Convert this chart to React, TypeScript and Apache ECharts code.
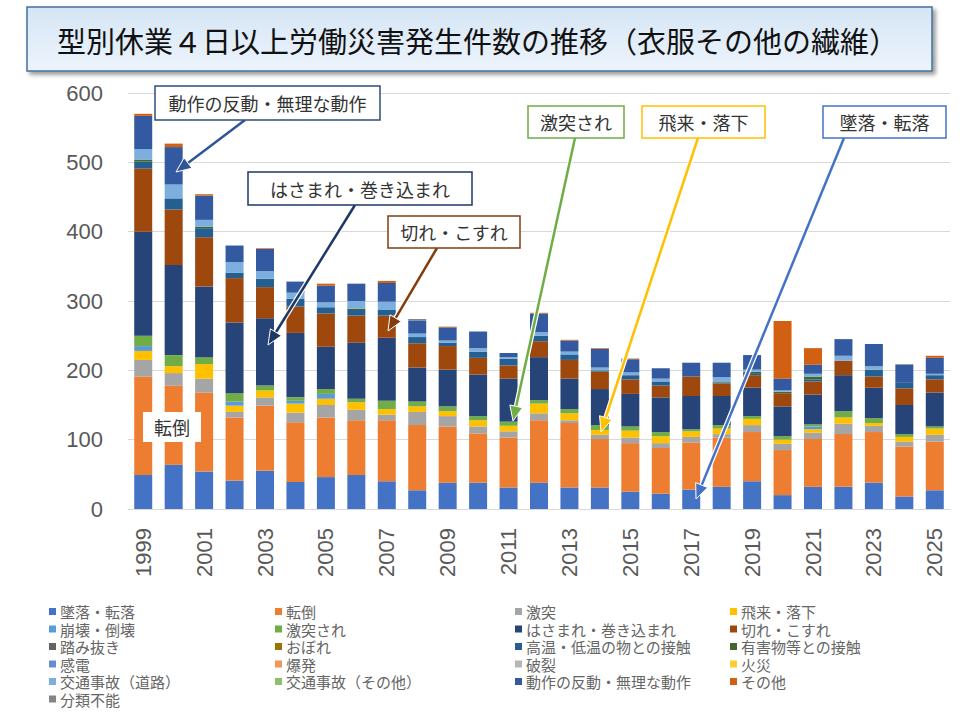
import * as echarts from "echarts";
import { useEffect, useRef } from "react";

// 年（横軸）
const years = [
  "1999", "2000", "2001", "2002", "2003", "2004", "2005", "2006", "2007",
  "2008", "2009", "2010", "2011", "2012", "2013", "2014", "2015", "2016",
  "2017", "2018", "2019", "2020", "2021", "2022", "2023", "2024", "2025",
];

const seriesNames = [
  "墜落・転落", "転倒", "激突", "飛来・落下",
  "崩壊・倒壊", "激突され", "はさまれ・巻き込まれ", "切れ・こすれ",
  "踏み抜き", "おぼれ", "高温・低温の物との接触", "有害物等との接触",
  "感電", "爆発", "破裂", "火災",
  "交通事故（道路）", "交通事故（その他）", "動作の反動・無理な動作", "その他",
  "分類不能",
];

const seriesColors = [
  "#4472C4", "#ED7D31", "#A5A5A5", "#FFC000",
  "#5B9BD5", "#70AD47", "#264478", "#9E480E",
  "#636363", "#997300", "#255E91", "#43682B",
  "#698ED0", "#F1975A", "#B7B7B7", "#FFCD33",
  "#7CAFDD", "#8CC168", "#335AA1", "#D26012",
  "#848484",
];

// 件数（1999〜2025）
const fall = [49, 64, 54, 41, 55, 39, 46, 49, 40, 27, 38, 38, 31, 38, 31, 31, 25, 22, 28, 32, 40, 20, 32, 32, 38, 18, 27];
const slip = [142, 114, 114, 91, 94, 86, 86, 79, 88, 94, 81, 71, 72, 90, 93, 70, 70, 66, 68, 71, 71, 65, 69, 76, 73, 72, 70];
const bump = [24, 18, 20, 8, 12, 14, 18, 15, 8, 19, 15, 10, 9, 10, 4, 6, 8, 7, 8, 5, 10, 9, 9, 15, 9, 7, 10];
const flying = [13, 10, 21, 9, 10, 13, 9, 11, 8, 8, 7, 9, 8, 14, 10, 7, 10, 10, 8, 8, 9, 6, 5, 9, 4, 7, 9];
const collapse = [7, 0, 0, 6, 0, 4, 7, 0, 0, 0, 0, 0, 0, 0, 0, 0, 0, 0, 0, 0, 0, 0, 4, 0, 0, 0, 0];
const hitBy = [15, 16, 10, 12, 7, 5, 7, 5, 12, 7, 7, 6, 6, 5, 6, 7, 6, 6, 3, 5, 4, 5, 3, 9, 7, 4, 3];
const caught = [150, 130, 102, 102, 97, 93, 61, 81, 91, 49, 53, 60, 62, 62, 44, 52, 47, 50, 48, 42, 41, 43, 43, 52, 44, 42, 49];
const cut = [91, 80, 71, 64, 45, 38, 48, 39, 32, 35, 34, 24, 19, 23, 27, 25, 21, 17, 28, 18, 18, 19, 19, 21, 16, 24, 19];
const stepThrough = [0, 0, 0, 0, 0, 0, 0, 0, 0, 0, 0, 0, 0, 0, 0, 0, 0, 0, 0, 0, 0, 0, 0, 0, 0, 0, 0];
const drowning = [0, 0, 0, 0, 0, 0, 0, 0, 0, 0, 0, 0, 0, 0, 0, 0, 0, 0, 0, 0, 0, 0, 0, 0, 0, 0, 0];
const hotCold = [10, 16, 13, 8, 12, 11, 9, 8, 8, 9, 5, 9, 10, 8, 8, 1, 6, 6, 0, 1, 3, 0, 3, 0, 10, 8, 6];
const harmful = [3, 0, 2, 0, 0, 0, 0, 2, 0, 0, 0, 0, 0, 0, 0, 1, 0, 0, 0, 1, 2, 2, 4, 0, 0, 0, 0];
const electric = [0, 0, 0, 0, 0, 0, 0, 0, 0, 0, 0, 0, 0, 0, 0, 0, 0, 0, 0, 0, 0, 0, 0, 0, 0, 0, 0];
const explosion = [0, 0, 0, 0, 0, 0, 0, 0, 0, 0, 0, 0, 0, 0, 0, 0, 0, 0, 0, 0, 0, 0, 0, 0, 0, 0, 0];
const rupture = [0, 0, 0, 0, 0, 0, 0, 0, 0, 0, 0, 0, 0, 0, 0, 0, 0, 0, 0, 0, 0, 0, 0, 0, 0, 0, 0];
const fire = [0, 0, 0, 0, 0, 0, 0, 0, 0, 0, 0, 0, 0, 0, 0, 0, 0, 0, 0, 0, 0, 0, 0, 0, 0, 0, 0];
const trafficRoad = [15, 20, 10, 15, 11, 9, 7, 11, 12, 5, 3, 5, 2, 5, 4, 4, 4, 4, 0, 7, 3, 2, 4, 7, 5, 0, 2];
const trafficOther = [0, 0, 0, 0, 0, 0, 0, 0, 0, 0, 0, 0, 0, 0, 0, 0, 0, 0, 0, 0, 0, 0, 0, 0, 0, 0, 0];
const overexertion = [48, 54, 35, 24, 32, 16, 24, 25, 27, 19, 19, 24, 6, 27, 16, 27, 19, 15, 20, 21, 21, 17, 13, 24, 32, 26, 23];
const others = [3, 5, 2, 0, 1, 0, 3, 0, 3, 0, 1, 0, 0, 1, 1, 1, 1, 0, 0, 0, 0, 83, 24, 0, 0, 0, 3];
const unknown = [0, 0, 0, 0, 0, 0, 0, 0, 0, 2, 0, 0, 0, 0, 0, 0, 0, 0, 0, 0, 0, 0, 0, 0, 0, 1, 0];

const seriesValues = [
  fall, slip, bump, flying, collapse, hitBy, caught, cut,
  stepThrough, drowning, hotCold, harmful, electric, explosion, rupture, fire,
  trafficRoad, trafficOther, overexertion, others, unknown,
];

const JP = "'Noto Sans CJK JP', 'Noto Sans', sans-serif";
const NUM = "'Liberation Sans', Arial, sans-serif";

// 吹き出し（枠＋矢印）
function callout(
  text: string,
  x: number, y: number, w: number, h: number,
  border: string,
  from: [number, number] | null, to: [number, number] | null, arrow: string
) {
  const els: any[] = [];
  if (from && to) {
    const dx = to[0] - from[0];
    const dy = to[1] - from[1];
    const len = Math.sqrt(dx * dx + dy * dy);
    const ux = dx / len, uy = dy / len;
    const hl = 15, hw = 6.5;
    const bx = to[0] - ux * hl, by = to[1] - uy * hl;
    const nx = -uy, ny = ux;
    els.push({
      type: "line", z: 100,
      shape: { x1: from[0], y1: from[1], x2: bx, y2: by },
      style: { stroke: "#fff", lineWidth: 5 },
    });
    els.push({
      type: "line", z: 101,
      shape: { x1: from[0], y1: from[1], x2: bx, y2: by },
      style: { stroke: arrow, lineWidth: 2.5 },
    });
    els.push({
      type: "polygon", z: 102,
      shape: { points: [to, [bx + nx * hw, by + ny * hw], [bx - nx * hw, by - ny * hw]] },
      style: { fill: arrow, stroke: "#fff", lineWidth: 1 },
    });
  }
  els.push({
    type: "rect", z: 103,
    shape: { x, y, width: w, height: h },
    style: { fill: "#fff", stroke: border, lineWidth: border === "none" ? 0 : 1.5 },
  });
  els.push({
    type: "text", z: 104,
    style: {
      text, x: x + w / 2, y: y + h / 2, fill: "#333", fontSize: 18, fontFamily: JP,
      textAlign: "center", textVerticalAlign: "middle",
    },
  });
  return els;
}

export default function App() {
  const ref = useRef<HTMLDivElement>(null);

  useEffect(() => {
    document.body.style.margin = "0";
    if (!ref.current) return;
    const chart = echarts.init(ref.current, undefined, { renderer: "svg" });

    // 凡例は4列（縦並び）に分ける
    const legends = [0, 1, 2, 3].map((c) => ({
      orient: "vertical",
      left: [44, 270, 510, 725][c],
      top: 599,
      itemWidth: 7,
      itemHeight: 7,
      itemGap: 2.5,
      icon: "rect",
      selectedMode: false,
      textStyle: { color: "#666", fontSize: 15, fontFamily: JP, lineHeight: 15, padding: [0, 0, 0, -1] },
      data: seriesNames.filter((_, k) => k % 4 === c),
    }));

    const graphics: any[] = [
      {
        type: "rect", z: 90,
        shape: { x: 27, y: 7, width: 905, height: 64 },
        style: {
          fill: new echarts.graphic.LinearGradient(0, 0, 0, 1, [
            { offset: 0, color: "#D5E5F5" },
            { offset: 1, color: "#EDF4FC" },
          ]),
          stroke: "#41719C",
          lineWidth: 1.5,
          shadowBlur: 4,
          shadowOffsetX: 3,
          shadowOffsetY: 3,
          shadowColor: "rgba(0,0,0,0.4)",
        },
      },
      {
        type: "text", z: 91,
        style: {
          text: "型別休業４日以上労働災害発生件数の推移（衣服その他の繊維）",
          x: 57, y: 40, fill: "#111", fontSize: 29, fontFamily: JP,
          textAlign: "left", textVerticalAlign: "middle",
        },
      },
      ...callout("動作の反動・無理な動作", 155, 86, 225, 34, "#2F4B7C", [245, 120], [176, 172], "#2F5597"),
      ...callout("はさまれ・巻き込まれ", 248, 172, 224, 33, "#1F3864", [355, 205], [268, 345], "#203864"),
      ...callout("切れ・こすれ", 388, 216, 132, 32, "#843C0C", [437, 248], [388, 331], "#843C0C"),
      ...callout("激突され", 528, 106, 96, 32, "#70AD47", [575, 138], [513, 421], "#70AD47"),
      ...callout("飛来・落下", 642, 106, 123, 32, "#FFC000", [698, 138], [601, 432], "#FFC000"),
      ...callout("墜落・転落", 823, 106, 123, 32, "#4472C4", [844, 138], [696, 499], "#4472C4"),
      ...callout("転倒", 143, 412, 58, 30, "none", null, null, ""),
    ];

    chart.setOption({
      animation: false,
      backgroundColor: "#fff",
      grid: { left: 128, right: 10, top: 93, bottom: 211 },
      legend: legends,
      xAxis: {
        type: "category",
        data: years,
        axisTick: { show: false },
        axisLine: { lineStyle: { color: "#D9D9D9" } },
        axisLabel: {
          rotate: 90,
          interval: 1,
          color: "#595959",
          fontSize: 22,
          fontFamily: NUM,
          margin: 19,
        },
      },
      yAxis: {
        type: "value",
        min: 0,
        max: 600,
        interval: 100,
        axisLine: { show: false },
        axisTick: { show: false },
        splitLine: { lineStyle: { color: "#D9D9D9" } },
        axisLabel: {
          color: "#595959",
          fontSize: 22,
          fontFamily: NUM,
          margin: 25,
        },
      },
      series: seriesNames.map((name, i) => ({
        name,
        type: "bar",
        stack: "total",
        barWidth: 18,
        itemStyle: { color: seriesColors[i] },
        data: seriesValues[i],
      })),
      graphic: graphics,
    });

    return () => {
      chart.dispose();
    };
  }, []);

  return <div ref={ref} style={{ width: 960, height: 720 }}></div>;
}
